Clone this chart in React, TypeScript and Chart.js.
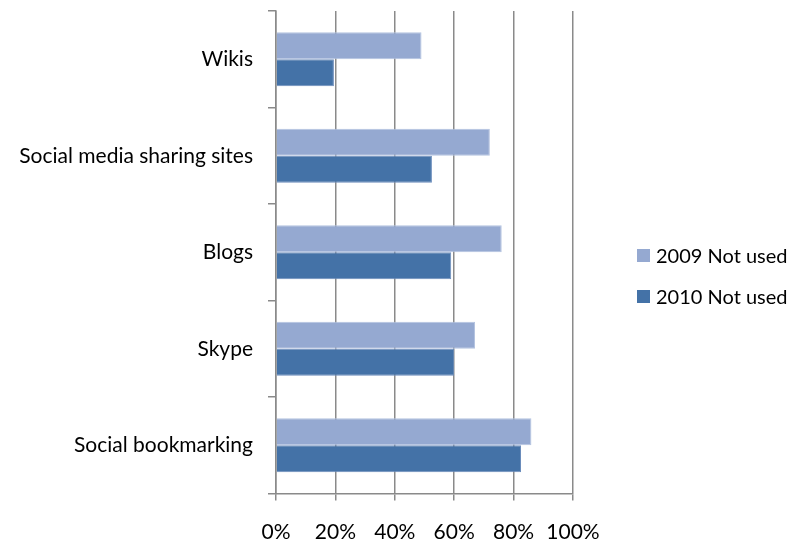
import React, { useEffect, useRef } from "react";
import { Chart, registerables } from "chart.js";

Chart.register(...registerables);

const categories = ["Wikis", "Social media sharing sites", "Blogs", "Skype", "Social bookmarking"];
const notUsed2009 = [49, 72, 76, 67, 86];
const notUsed2010 = [19.5, 52.5, 59, 60, 82.5];
const xTicks = [0, 20, 40, 60, 80, 100];
const seriesNames = ["2009 Not used", "2010 Not used"];
const seriesColors = ["#95A9D1", "#4472A7"];
const seriesBorders = ["#B4C3E0", "#6C8DBC"];

const FONT = "Lato, 'Noto Sans', sans-serif";

export default function App() {
  const ref = useRef<HTMLCanvasElement | null>(null);

  useEffect(() => {
    document.documentElement.style.overflow = "hidden";
    if (!ref.current) return;
    const chart = new Chart(ref.current, {
      type: "bar",
      data: {
        labels: categories,
        datasets: [
          {
            label: seriesNames[0],
            data: notUsed2009,
            backgroundColor: seriesColors[0],
            borderColor: seriesBorders[0],
            borderWidth: 1,
            categoryPercentage: 0.56,
            barPercentage: 1,
          },
          {
            label: seriesNames[1],
            data: notUsed2010,
            backgroundColor: seriesColors[1],
            borderColor: seriesBorders[1],
            borderWidth: 1,
            categoryPercentage: 0.56,
            barPercentage: 1,
          },
        ],
      },
      options: {
        indexAxis: "y",
        responsive: false,
        animation: false,
        layout: { padding: { top: 3, right: 220, left: 0, bottom: 0 } },
        plugins: {
          legend: { display: false },
          tooltip: { enabled: false },
        },
        scales: {
          x: {
            min: 0,
            max: 100,
            afterBuildTicks: (s: any) => {
              s.ticks = xTicks.map((v) => ({ value: v }));
            },
            afterFit: (s: any) => {
              s.height = 47.5;
            },
            ticks: {
              callback: (v: any) => v + "%",
              color: "#000",
              font: { family: FONT, size: 21 },
              padding: 19,
              maxRotation: 0,
            },
            grid: {
              color: "#8A8A8A",
              lineWidth: 1.5,
              tickLength: 7,
              drawTicks: true,
            },
            border: { color: "#8A8A8A", width: 1.5 },
          },
          y: {
            afterFit: (s: any) => {
              s.width = 268;
              s.paddingTop = 0;
              s.paddingBottom = 0;
            },
            ticks: {
              color: "#000",
              font: { family: FONT, size: 21 },
              padding: 15,
            },
            grid: {
              offset: true,
              drawOnChartArea: false,
              drawTicks: true,
              tickLength: 8,
              color: "#8A8A8A",
              lineWidth: 1.5,
            },
            border: { color: "#8A8A8A", width: 1.5 },
          },
        },
      },
    });
    return () => chart.destroy();
  }, []);

  return (
    <div style={{ position: "relative", width: 785, height: 533 }}>
      <canvas ref={ref} width={785} height={533} style={{ display: "block" }} />
      <div
        style={{
          position: "absolute",
          left: 629,
          top: 234,
          fontFamily: FONT,
          fontSize: 20,
          color: "#000",
        }}
      >
        {seriesNames.map((n, i) => (
          <div key={n} style={{ display: "flex", alignItems: "center", height: 26, marginBottom: i === 0 ? 15 : 0 }}>
            <span style={{ display: "inline-block", width: 13, height: 13, background: seriesColors[i], marginRight: 6 }} />
            <span style={{ whiteSpace: "nowrap" }}>{n}</span>
          </div>
        ))}
      </div>
    </div>
  );
}
